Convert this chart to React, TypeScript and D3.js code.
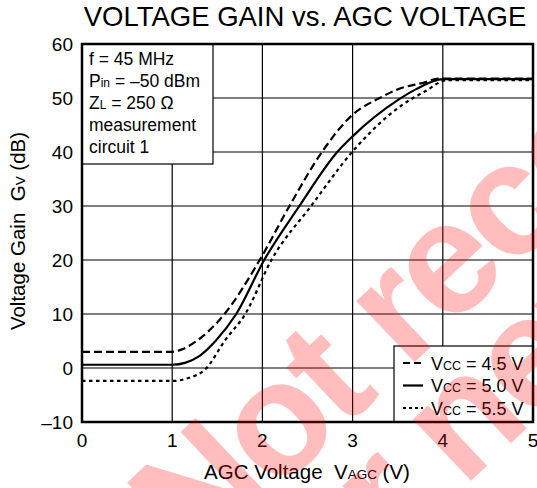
import { useEffect, useRef } from "react";
import * as d3 from "d3";

// AGC voltage (V) / voltage gain (dB), one pair per Vcc
const vagc45 = [0, 1.0, 1.1, 1.27, 1.58, 1.97, 2.3, 2.66, 3.0, 3.3, 3.5, 3.8, 3.95, 5];
const gain45 = [3, 3, 3.4, 5, 10, 20, 30, 40, 46.9, 50, 51.6, 52.9, 53.6, 53.6];

const vagc50 = [0, 1.0, 1.15, 1.3, 1.48, 1.71, 2.02, 2.41, 2.83, 3.0, 3.5, 3.7, 4.0, 5];
const gain50 = [0.6, 0.6, 1.0, 2.2, 5, 10, 20, 30, 40, 42.9, 49.6, 51.6, 53.5, 53.5];

const vagc55 = [0, 1.0, 1.15, 1.38, 1.58, 1.81, 2.1, 2.54, 3.0, 3.5, 3.67, 3.8, 4.05, 5];
const gain55 = [-2.4, -2.4, -2.0, 0, 5, 10, 20, 30, 40.1, 48.1, 50, 51.2, 53.3, 53.3];

const seriesLabels = ["4.5", "5.0", "5.5"];
const xTicks = [0, 1, 2, 3, 4, 5];
const yTicks = [-10, 0, 10, 20, 30, 40, 50, 60];
const conditions = ["f = 45 MHz", "Pin = –50 dBm", "ZL = 250 Ω", "measurement", "circuit 1"];

const FONT = "'Liberation Sans', Arial, Helvetica, sans-serif";

const App = () => {
  const svgRef = useRef(null);

  useEffect(() => {
    const width = 537;
    const height = 488;
    const margin = { top: 44, right: 4, bottom: 66, left: 82 };

    const svg = d3.select(svgRef.current);
    svg.selectAll("*").remove();
    svg.attr("width", width).attr("height", height).style("font-family", FONT);

    const x = d3.scaleLinear().domain([0, 5]).range([margin.left, width - margin.right]);
    const y = d3.scaleLinear().domain([-10, 60]).range([height - margin.bottom, margin.top]);

    // grid
    svg
      .selectAll(".vgrid")
      .data(xTicks.slice(1, -1))
      .enter()
      .append("line")
      .attr("x1", (d) => x(d))
      .attr("x2", (d) => x(d))
      .attr("y1", y(-10))
      .attr("y2", y(60))
      .attr("stroke", "#000")
      .attr("stroke-width", 1.2);

    svg
      .selectAll(".hgrid")
      .data(yTicks.slice(1, -1))
      .enter()
      .append("line")
      .attr("x1", x(0))
      .attr("x2", x(5))
      .attr("y1", (d) => y(d))
      .attr("y2", (d) => y(d))
      .attr("stroke", "#000")
      .attr("stroke-width", 1.2);

    // curves
    const series = [
      { xs: vagc45, ys: gain45, dash: "8,4" },
      { xs: vagc50, ys: gain50, dash: null },
      { xs: vagc55, ys: gain55, dash: "3.5,3.5" },
    ];

    const line = d3
      .line()
      .x((d) => x(d[0]))
      .y((d) => y(d[1]))
      .curve(d3.curveMonotoneX);

    series.forEach((s) => {
      const pts = s.xs.map((v, i) => [v, s.ys[i]]);
      svg
        .append("path")
        .attr("d", line(pts))
        .attr("fill", "none")
        .attr("stroke", "#000")
        .attr("stroke-width", 2.2)
        .attr("stroke-dasharray", s.dash);
    });

    // conditions box
    const boxW = 131;
    const boxH = 120;
    svg
      .append("rect")
      .attr("x", x(0))
      .attr("y", y(60))
      .attr("width", boxW)
      .attr("height", boxH)
      .attr("fill", "#fff")
      .attr("stroke", "#000")
      .attr("stroke-width", 1.2);

    conditions.forEach((c, i) => {
      const t = svg
        .append("text")
        .attr("x", x(0) + 7)
        .attr("y", y(60) + 21 + i * 22)
        .style("font-size", "17.5px")
        .attr("fill", "#000");
      if (c.startsWith("Pin")) {
        t.append("tspan").text("P");
        t.append("tspan").style("font-size", "12px").text("in");
        t.append("tspan").text(c.slice(3));
      } else if (c.startsWith("ZL")) {
        t.append("tspan").text("Z");
        t.append("tspan").style("font-size", "12px").text("L");
        t.append("tspan").text(c.slice(2));
      } else {
        t.text(c);
      }
    });

    // legend
    const legX = 394;
    const legY = 346;
    svg
      .append("rect")
      .attr("x", legX)
      .attr("y", legY)
      .attr("width", x(5) - legX)
      .attr("height", y(-10) - legY)
      .attr("fill", "#fff")
      .attr("stroke", "#000")
      .attr("stroke-width", 1.2);

    series.forEach((s, i) => {
      const cy = legY + 17 + i * 22.5;
      svg
        .append("line")
        .attr("x1", legX + 9)
        .attr("x2", legX + 29)
        .attr("y1", cy)
        .attr("y2", cy)
        .attr("stroke", "#000")
        .attr("stroke-width", 2.2)
        .attr("stroke-dasharray", s.dash ? (i === 0 ? "7,4" : "3,3") : null);
      const t = svg
        .append("text")
        .attr("x", legX + 37)
        .attr("y", cy + 6.5)
        .style("font-size", "18px")
        .style("white-space", "pre");
      t.append("tspan").text("V");
      t.append("tspan").style("font-size", "12.5px").text("CC");
      t.append("tspan").text(` = ${seriesLabels[i]} V`);
    });

    // frame
    svg
      .append("rect")
      .attr("x", x(0))
      .attr("y", y(60))
      .attr("width", x(5) - x(0))
      .attr("height", y(-10) - y(60))
      .attr("fill", "none")
      .attr("stroke", "#000")
      .attr("stroke-width", 2.5);

    // tick labels
    svg
      .selectAll(".ylab")
      .data(yTicks)
      .enter()
      .append("text")
      .attr("x", margin.left - 9)
      .attr("y", (d) => y(d) + 7)
      .attr("text-anchor", "end")
      .style("font-size", "19px")
      .text((d) => (d < 0 ? `–${Math.abs(d)}` : d));

    svg
      .selectAll(".xlab")
      .data(xTicks)
      .enter()
      .append("text")
      .attr("x", (d) => x(d))
      .attr("y", 447)
      .attr("text-anchor", "middle")
      .style("font-size", "19px")
      .text((d) => d);

    // axis titles
    const xt = svg
      .append("text")
      .attr("x", 307)
      .attr("y", 479)
      .attr("text-anchor", "middle")
      .style("font-size", "20.5px")
      .style("white-space", "pre");
    xt.append("tspan").text("AGC Voltage  V");
    xt.append("tspan").style("font-size", "13.5px").text("AGC");
    xt.append("tspan").text(" (V)");

    const yt = svg
      .append("text")
      .attr("transform", "translate(25,231) rotate(-90)")
      .attr("text-anchor", "middle")
      .style("font-size", "20.5px")
      .style("white-space", "pre");
    yt.append("tspan").text("Voltage Gain  G");
    yt.append("tspan").style("font-size", "13.5px").text("V");
    yt.append("tspan").text(" (dB)");

    svg
      .append("text")
      .attr("x", 305)
      .attr("y", 26)
      .attr("text-anchor", "middle")
      .style("font-size", "27.5px")
      .text("VOLTAGE GAIN vs. AGC VOLTAGE");

    // watermark
    const wm = svg
      .append("g")
      .attr("transform", "translate(195,570) rotate(-43.4)")
      .attr("fill", "#ff0000")
      .attr("fill-opacity", 0.26)
      .style("font-size", "160px")
      .style("font-weight", "bold")
      .style("letter-spacing", "-5px");
    wm.append("text").attr("x", 0).attr("y", 0).text("Not recommended");
    wm.append("text").attr("x", 13).attr("y", 125).text("for new design");
  }, []);

  return (
    <svg
      ref={svgRef}
      style={{ position: "absolute", left: 0, top: 0, display: "block" }}
    ></svg>
  );
};

export default App;
